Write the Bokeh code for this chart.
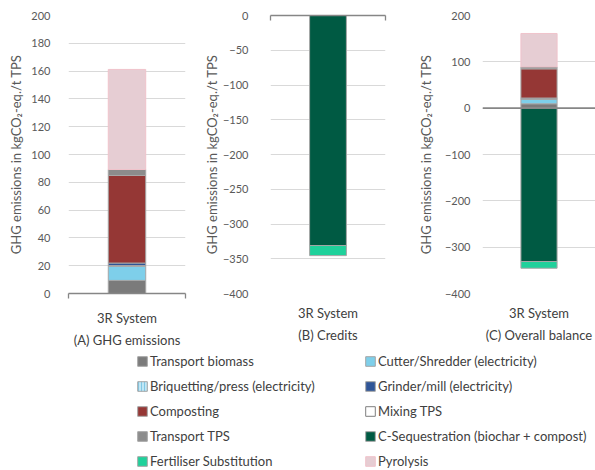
import numpy as np
from bokeh.plotting import figure
from bokeh.layouts import row, column
from bokeh.models import (ColumnDataSource, Range1d, FixedTicker, Span, Legend,
                          LegendItem, LinearAxis)
from bokeh.embed import file_html
from bokeh.resources import INLINE

# ---- data -----------------------------------------------------------------
category = "3R System"
panel_titles = ["(A) GHG emissions", "(B) Credits", "(C) Overall balance"]

series = [
    "Transport biomass",
    "Cutter/Shredder (electricity)",
    "Briquetting/press (electricity)",
    "Grinder/mill (electricity)",
    "Composting",
    "Mixing TPS",
    "Transport TPS",
    "C-Sequestration (biochar + compost)",
    "Fertiliser Substitution",
    "Pyrolysis",
]
# kgCO2-eq. per t TPS
ghg_emissions = [9.4, 10.2, 0.5, 1.8, 63.0, 0.0, 4.3, 0.0, 0.0, 72.0]
credits = [0.0, 0.0, 0.0, 0.0, 0.0, 0.0, 0.0, -331.0, -14.5, 0.0]
overall_balance = [e + c for e, c in zip(ghg_emissions, credits)]

y_ranges = [(0, 200), (-400, 0), (-400, 200)]
y_ticks = [list(range(0, 201, 20)), list(range(-400, 1, 50)), list(range(-400, 201, 100))]

# ---- styling --------------------------------------------------------------
fill_colors = ["#7b7b7b", "#7ecfea", "#bfe6f5", "#2f5597", "#953735",
               "#ffffff", "#8c8c8c", "#005a43", "#1fd19b", "#e6cdd3"]
line_colors = ["#a6a6a6"] * 9 + ["#f0c3cb"]
hatches = [" ", " ", "|", " ", " ", " ", " ", " ", " ", " "]

FONT = "Lato"
TXT = "#595959"
DARK = "#404040"
GRID = "#d9d9d9"
ZERO = "#868686"
TICK_SIZE = "11px"
TEXT_SIZE = "13px"
Y_LABEL = "GHG emissions in kgCO\u2082-eq./t TPS"
PANEL_H = 351


def stack_segments(values):
    """Stack positives upward and negatives downward from zero."""
    pos, neg = 0.0, 0.0
    bottoms, tops = [], []
    for v in values:
        if v >= 0:
            bottoms.append(pos)
            pos += v
            tops.append(pos)
        else:
            bottoms.append(neg)
            neg += v
            tops.append(neg)
    return bottoms, tops


def make_panel(values, title, yr, ticks, width, border_left, border_right,
               tick_standoff, title_standoff, zero_at="middle"):
    p = figure(width=width, height=PANEL_H, output_backend="svg", toolbar_location=None,
               x_range=Range1d(0, 1), y_range=Range1d(*yr),
               min_border_left=border_left, min_border_right=border_right,
               min_border_top=15, min_border_bottom=PANEL_H - 293,
               outline_line_color=None)
    p.ygrid.ticker = FixedTicker(ticks=ticks)
    p.ygrid.grid_line_color = GRID
    p.xgrid.grid_line_color = None

    bottoms, tops = stack_segments(values)
    keep = [i for i, v in enumerate(values) if v != 0]
    src = ColumnDataSource(dict(
        x=[0.5] * len(keep),
        bottom=[bottoms[i] for i in keep],
        top=[tops[i] for i in keep],
        fill=[fill_colors[i] for i in keep],
        line=[line_colors[i] for i in keep],
        hatch=[hatches[i] for i in keep],
    ))
    p.vbar(x="x", bottom="bottom", top="top", width=0.32, source=src,
           fill_color="fill", line_color="line", line_width=1,
           hatch_pattern="hatch", hatch_color="#6fbfe0", hatch_scale=3,
           hatch_weight=0.8)

    # value axis
    yax = p.yaxis[0]
    yax.ticker = FixedTicker(ticks=ticks)
    yax.axis_line_color = None
    yax.major_tick_line_color = None
    yax.minor_tick_line_color = None
    yax.major_tick_out = 0
    yax.major_label_standoff = tick_standoff
    yax.major_label_text_font = FONT
    yax.major_label_text_font_size = TICK_SIZE
    yax.major_label_text_color = TXT
    yax.axis_label = Y_LABEL
    yax.axis_label_standoff = title_standoff
    yax.axis_label_text_font = FONT
    yax.axis_label_text_font_size = TEXT_SIZE
    yax.axis_label_text_font_style = "normal"
    yax.axis_label_text_color = TXT

    # category axis (labels below the frame)
    xax = p.xaxis[0]
    xax.ticker = FixedTicker(ticks=[0.5], minor_ticks=[0, 1])
    xax.major_label_overrides = {0.5: category}
    xax.major_tick_line_color = None
    xax.major_tick_out = 0
    xax.major_tick_in = 0
    xax.minor_tick_in = 0
    xax.major_label_standoff = 11
    xax.major_label_text_font = FONT
    xax.major_label_text_font_size = TEXT_SIZE
    xax.major_label_text_color = DARK
    xax.axis_label = title
    xax.axis_label_standoff = 3
    xax.axis_label_text_font = FONT
    xax.axis_label_text_font_size = TEXT_SIZE
    xax.axis_label_text_font_style = "normal"
    xax.axis_label_text_color = DARK
    if zero_at == "bottom":
        xax.axis_line_color = ZERO
        xax.axis_line_width = 1.3
        xax.minor_tick_line_color = ZERO
        xax.minor_tick_line_width = 1.3
        xax.minor_tick_out = 5
    else:
        xax.axis_line_color = None
        xax.minor_tick_line_color = None
        xax.minor_tick_out = 0

    if zero_at == "top":
        top_axis = LinearAxis(ticker=FixedTicker(ticks=[], minor_ticks=[0, 1]),
                              axis_line_color=ZERO, axis_line_width=1.3,
                              major_tick_line_color=None, major_label_text_font_size="0px",
                              minor_tick_line_color=ZERO, minor_tick_line_width=1.3,
                              minor_tick_in=5, minor_tick_out=0)
        p.add_layout(top_axis, "above")
    if zero_at == "middle":
        p.add_layout(Span(location=0, dimension="width", line_color=ZERO,
                          line_width=1.6))
    return p


pa = make_panel(ghg_emissions, panel_titles[0], y_ranges[0], y_ticks[0],
                200, 68, 15, 18, 4, zero_at="bottom")
pb = make_panel(credits, panel_titles[1], y_ranges[1], y_ticks[1],
                200, 70, 15, 22, 0, zero_at="top")
pc = make_panel(overall_balance, panel_titles[2], y_ranges[2], y_ticks[2],
                195, 82, 0, 12, 8, zero_at="middle")

# ---- shared legend --------------------------------------------------------
pl = figure(width=595, height=470 - PANEL_H, output_backend="svg", toolbar_location=None,
            x_range=Range1d(0, 1), y_range=Range1d(0, 1),
            x_axis_type=None, y_axis_type=None, outline_line_color=None,
            min_border_left=136, min_border_top=2, min_border_right=0,
            min_border_bottom=0)
pl.grid.visible = False
items = []
nan = [np.nan]
for i, name in enumerate(series):
    r = pl.quad(left=nan, right=nan, top=nan, bottom=nan,
                fill_color=fill_colors[i],
                line_color="#7f7f7f" if name == "Mixing TPS" else line_colors[i],
                line_width=1, hatch_pattern=hatches[i],
                hatch_color="#6fbfe0", hatch_scale=3, hatch_weight=0.8)
    items.append(LegendItem(label=name, renderers=[r]))
legend = Legend(items=items, location="top_left", orientation="horizontal", ncols=2,
                margin=0, padding=0, spacing=9, glyph_width=12, glyph_height=12,
                label_height=16, label_width=205, label_standoff=2,
                label_text_font=FONT, label_text_font_size=TEXT_SIZE,
                label_text_color=DARK, border_line_color=None,
                background_fill_alpha=0)
pl.add_layout(legend)

layout = column(row(pa, pb, pc), pl)
open("out.html", "w").write(file_html(layout, INLINE))
